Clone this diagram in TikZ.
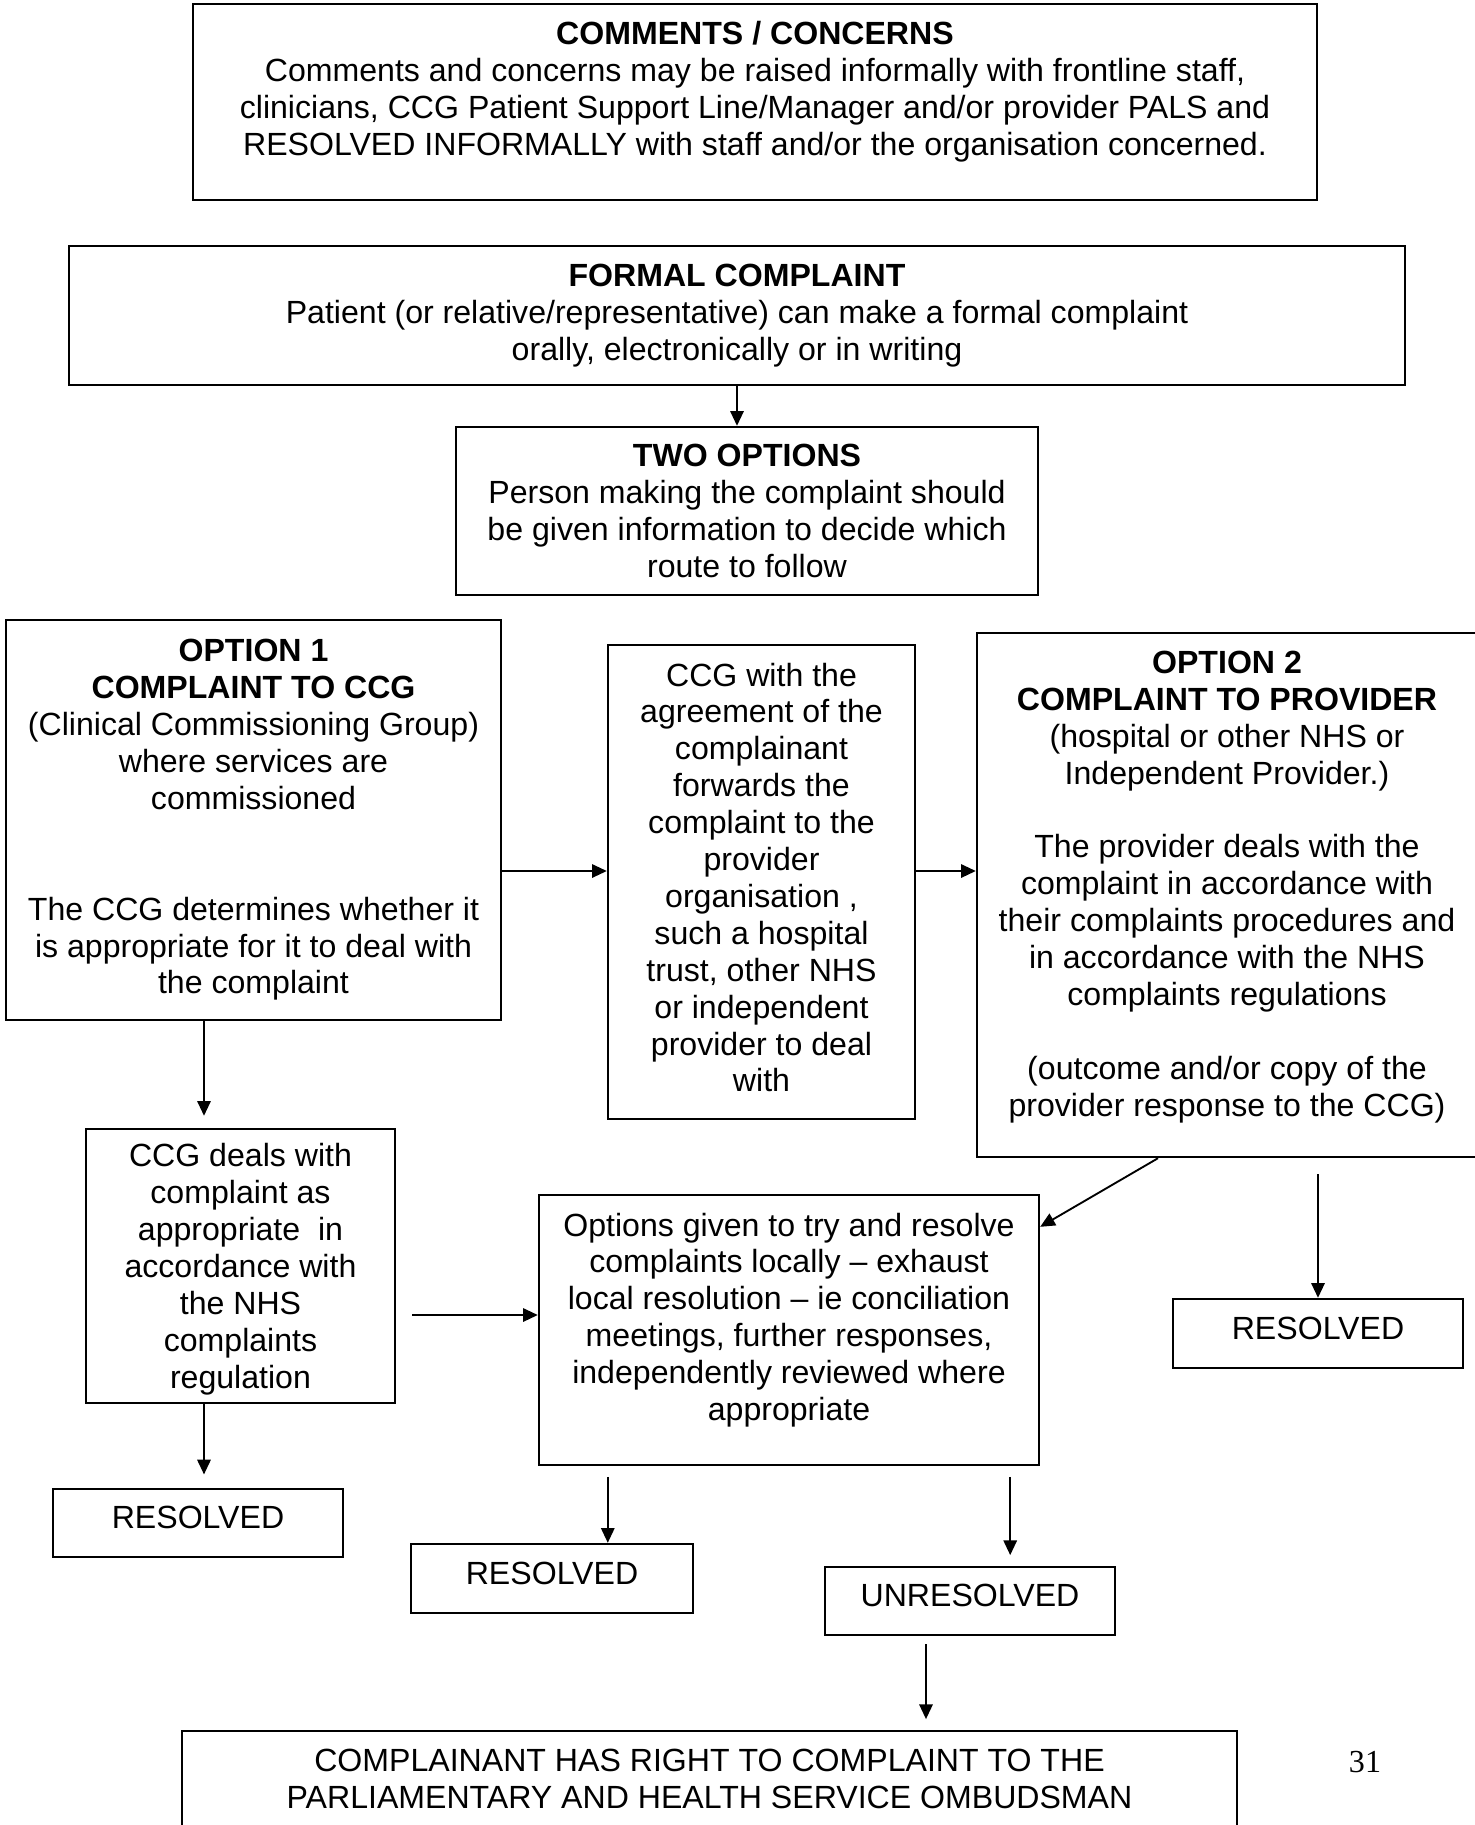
\documentclass[tikz,border=0pt]{standalone}
\usepackage{fontspec}
\setmainfont{Liberation Sans}
\newfontfamily\pagenumfont{Liberation Serif}
\usetikzlibrary{arrows.meta,calc}

\begin{document}
\begin{tikzpicture}[x=0.374pt,y=-0.374pt,
		box/.style={draw,line width=0.9pt,align=center,font=\fontsize{12}{13.8}\selectfont},
		wh/.style 2 args={minimum width=#1*0.374pt,minimum height=#2*0.374pt},
		arr/.style={line width=0.7pt,-{Triangle[length=5.5pt,width=5pt]}}]
		\useasboundingbox (0,0) rectangle (1475,1825);
		\clip (0,0) rectangle (1475,1825);

		\node[box,wh={1124}{196},text depth=10pt] (comments) at (755,102) {\textbf{COMMENTS / CONCERNS}\\
			Comments and concerns may be raised informally with frontline staff,\\
			clinicians, CCG Patient Support Line/Manager and/or provider PALS and\\
			RESOLVED INFORMALLY with staff and/or the organisation concerned.};

		\node[box,wh={1336}{139}] (formal) at (737,315.5) {\textbf{FORMAL COMPLAINT}\\
			Patient (or relative/representative) can make a formal complaint\\
			orally, electronically or in writing};
		\node[box,wh={582}{168}] (twoopt) at (747,511) {\textbf{TWO OPTIONS}\\
			Person making the complaint should\\
			be given information to decide which\\
			route to follow};

		\node[box,wh={495}{400}] (opt1) at (253.5,820) {\textbf{OPTION 1}\\
			\textbf{COMPLAINT TO CCG}\\
			(Clinical Commissioning Group)\\
			where services are\\
			commissioned\\[27.6pt]
			The CCG determines whether it\\
			is appropriate for it to deal with\\
			the complaint};
		\node[box,wh={307}{474},text depth=3.5pt] (ccgfwd) at (761.5,882) {CCG with the\\ agreement of the\\ complainant\\ forwards the\\
			complaint to the\\ provider\\ organisation ,\\ such a hospital\\ trust, other NHS\\
			or independent\\ provider to deal\\ with};
		\node[box,wh={500}{524},text depth=8.5pt] (opt2) at (1227,895) {\textbf{OPTION 2}\\
			\textbf{COMPLAINT TO PROVIDER}\\
			(hospital or other NHS or\\
			Independent Provider.)\\[13.8pt]
			The provider deals with the\\
			complaint in accordance with\\
			their complaints procedures and\\
			in accordance with the NHS\\
			complaints regulations\\[13.8pt]
			(outcome and/or copy of the\\
			provider response to the CCG)};

		\node[box,wh={309}{274},text depth=-2.3pt] (ccgdeal) at (240.5,1266) {CCG deals with\\ complaint as\\ appropriate\ \ in\\
			accordance with\\ the NHS\\ complaints\\ regulation};
		\node[box,wh={500}{270},text depth=10pt] (local) at (789,1330) {Options given to try and resolve\\
			complaints locally – exhaust\\
			local resolution – ie conciliation\\
			meetings, further responses,\\
			independently reviewed where\\
			appropriate};
		\node[box,wh={290}{69},text depth=4pt] (resR) at (1318,1333.5) {RESOLVED};
		\node[box,wh={290}{68},text depth=4pt] (resL) at (198,1523) {RESOLVED};
		\node[box,wh={282}{69},text depth=4pt] (resM) at (552,1578.5) {RESOLVED};
		\node[box,wh={290}{68},text depth=4pt] (unres) at (970,1601) {UNRESOLVED};

		\node[box,wh={1055}{103},text depth=3pt] (ombud) at (709.5,1782.5) {COMPLAINANT HAS RIGHT TO COMPLAINT TO THE\\
			PARLIAMENTARY AND HEALTH SERVICE OMBUDSMAN};
		\node[font=\pagenumfont\fontsize{12}{13.8}\selectfont] (pagenum) at (1365,1762) {31};

		\draw[arr] (formal.south) -- (formal.south |- twoopt.north);
		\draw[arr] ($(opt1.east)+(0,51)$) coordinate (h1) -- (h1 -| ccgfwd.west);
		\draw[arr] ($(ccgfwd.east)+(0,-11)$) coordinate (h2) -- (h2 -| opt2.west);
		\draw[arr,shorten >=4.5pt] ($(opt1.south)+(-49.5,0)$) coordinate (v1) -- (v1 |- ccgdeal.north);
		\draw[arr] ($(opt2.south)+(-69,0)$) -- ($(local.north east)+(0,33)$);
		\draw[arr,shorten <=6pt] (resR.north |- opt2.south) -- (resR.north);
		\draw[arr,shorten <=6pt] ($(ccgdeal.east)+(0,49)$) coordinate (h3) -- (h3 -| local.west);
		\draw[arr,shorten >=5pt] ($(ccgdeal.south)+(-36.5,0)$) coordinate (v2) -- (v2 |- resL.north);
		\draw[arr,shorten <=4pt] ($(local.south west)+(70,0)$) coordinate (v3) -- (v3 |- resM.north);
		\draw[arr,shorten <=4pt,shorten >=4pt] ($(local.south east)+(-30,0)$) coordinate (v4) -- (v4 |- unres.north);
		\draw[arr,shorten <=3pt,shorten >=4pt] ($(unres.south)+(-44,0)$) coordinate (v5) -- (v5 |- ombud.north);
\end{tikzpicture}
\end{document}
